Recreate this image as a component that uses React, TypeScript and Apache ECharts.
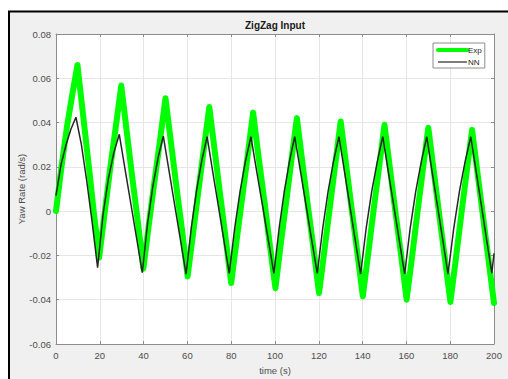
import React, { useEffect, useRef } from "react";
import * as echarts from "echarts";

const xTicks = [0, 20, 40, 60, 80, 100, 120, 140, 160, 180, 200];
const yTicks = [-0.06, -0.04, -0.02, 0, 0.02, 0.04, 0.06, 0.08];
const titleText = "ZigZag Input";
const xName = "time (s)";
const yName = "Yaw Rate (rad/s)";
const seriesNames = ["Exp", "NN"];

const expTime = [
  0, 2.5, 5, 7.5, 9.8,
  12.3, 14.8, 17.2, 19.7,
  22.2, 24.7, 27.3, 29.8,
  32.3, 34.8, 37.4, 39.9,
  42.4, 44.9, 47.5, 50.0,
  52.5, 55.0, 57.6, 60.1,
  62.6, 65.0, 67.5, 70.0,
  72.5, 75.0, 77.5, 80.0,
  82.5, 85.0, 87.5, 90.0,
  92.5, 95.1, 97.6, 100.2,
  102.6, 105.1, 107.5, 110.0,
  112.5, 115.0, 117.6, 120.1,
  122.6, 125.0, 127.5, 130.0,
  132.5, 135.0, 137.6, 140.1,
  142.6, 145.0, 147.5, 150.0,
  152.5, 155.0, 157.6, 160.1,
  162.6, 165.0, 167.5, 170.0,
  172.5, 175.0, 177.6, 180.1,
  182.6, 185.0, 187.5, 190.0,
  192.5, 195.0, 197.5, 200.0,
];
const expValue = [
  0.0, 0.020, 0.038, 0.053, 0.066,
  0.044, 0.022, 0.0, -0.021,
  -0.001, 0.019, 0.038, 0.0567,
  0.036, 0.0155, -0.005, -0.026,
  -0.006, 0.013, 0.032, 0.051,
  0.031, 0.011, -0.009, -0.0295,
  -0.010, 0.009, 0.028, 0.047,
  0.027, 0.007, -0.0125, -0.0325,
  -0.013, 0.006, 0.025, 0.0445,
  0.0245, 0.005, -0.015, -0.0348,
  -0.015, 0.004, 0.023, 0.042,
  0.022, 0.0025, -0.017, -0.037,
  -0.0175, 0.0015, 0.021, 0.0405,
  0.0208, 0.001, -0.0187, -0.0385,
  -0.019, 0.0003, 0.0196, 0.039,
  0.0192, -0.0005, -0.020, -0.040,
  -0.0205, -0.001, 0.0185, 0.0377,
  0.018, -0.0017, -0.0214, -0.041,
  -0.0215, -0.002, 0.0175, 0.0367,
  0.017, -0.0025, -0.022, -0.0415,
];

const nnTime = [
  0, 2.3, 4.6, 6.8, 9.1,
  11.6, 14.05, 16.5, 19.0,
  21.5, 23.95, 26.4, 28.9,
  31.5, 34.15, 36.8, 39.4,
  41.8, 44.2, 46.6, 49.0,
  51.6, 54.2, 56.8, 59.4,
  61.8, 64.2, 66.6, 69.0,
  71.5, 74.05, 76.6, 79.1,
  81.6, 84.05, 86.5, 89.0,
  91.6, 94.25, 96.9, 99.5,
  101.9, 104.25, 106.6, 109.0,
  111.6, 114.15, 116.7, 119.3,
  121.8, 124.25, 126.7, 129.2,
  131.7, 134.15, 136.6, 139.1,
  141.6, 144.15, 146.7, 149.2,
  151.7, 154.2, 156.7, 159.2,
  161.7, 164.25, 166.8, 169.3,
  171.7, 174.15, 176.6, 179.0,
  181.6, 184.2, 186.8, 189.4,
  191.8, 194.2, 196.6, 199.0,
  200.0,
];
const nnValue = [
  0.007, 0.021, 0.030, 0.037, 0.0424,
  0.030, 0.0135, -0.005, -0.0255,
  -0.0014, 0.0148, 0.0263, 0.0347,
  0.0191, 0.0035, -0.0122, -0.0278,
  -0.0056, 0.0111, 0.024, 0.0339,
  0.0183, 0.0027, -0.0129, -0.0285,
  -0.0074, 0.0094, 0.023, 0.0336,
  0.0182, 0.0028, -0.0127, -0.0281,
  -0.0077, 0.0089, 0.0225, 0.0336,
  0.0182, 0.0028, -0.0127, -0.0281,
  -0.0077, 0.0089, 0.0225, 0.0336,
  0.0182, 0.0028, -0.0127, -0.0281,
  -0.0077, 0.0089, 0.0225, 0.0336,
  0.0181, 0.0026, -0.0129, -0.0284,
  -0.0079, 0.0088, 0.0224, 0.0336,
  0.0181, 0.0026, -0.0129, -0.0284,
  -0.0079, 0.0088, 0.0224, 0.0336,
  0.0181, 0.0026, -0.0129, -0.0284,
  -0.0079, 0.0088, 0.0224, 0.0336,
  0.0182, 0.0028, -0.0126, -0.028,
  -0.019,
];

const FONT = "'Liberation Sans', Arial, Helvetica, sans-serif";
const LABEL = "#4d4d4d";
const AXIS = "#8c8c8c";
const GREEN = "#00ff00";
const DARK = "#262626";

function fmtY(v: number): string {
  if (Math.abs(v) < 1e-9) return "0";
  return v.toFixed(2);
}

export default function App() {
  const ref = useRef<HTMLDivElement>(null);
  useEffect(() => {
    if (!ref.current) return;
    const chart = echarts.init(ref.current, undefined, { renderer: "svg" });
    const expData = expTime.map((t, i) => [t, expValue[i]]);
    const nnData = nnTime.map((t, i) => [t, nnValue[i]]);
    const xMin = xTicks[0];
    const xMax = xTicks[xTicks.length - 1];
    const xInt = xTicks[1] - xTicks[0];
    const yMin = yTicks[0];
    const yMax = yTicks[yTicks.length - 1];
    const yInt = 0.02;
    const axisCommon = {
      axisLine: { show: true, onZero: false, lineStyle: { color: AXIS, width: 1 } },
      axisTick: { show: true, inside: true, length: 3, lineStyle: { color: AXIS } },
    };
    chart.setOption({
      animation: false,
      title: {
        text: titleText,
        left: 245,
        top: 20,
        padding: 0,
        textStyle: { fontFamily: FONT, fontSize: 10, fontWeight: "bold", color: "#1a1a1a" },
      },
      graphic: [
        { type: "rect", z: -10, silent: true, shape: { x: 9, y: 11, width: 510, height: 380 }, style: { fill: "#f0f0f0" } },
        { type: "line", z: -9, silent: true, shape: { x1: 8, y1: 11.5, x2: 508, y2: 11.5 }, style: { stroke: "#000", lineWidth: 2 } },
        { type: "line", z: -9, silent: true, shape: { x1: 9, y1: 11, x2: 9, y2: 379 }, style: { stroke: "#000", lineWidth: 2 } },
        {
          type: "text",
          x: 275,
          y: 370,
          style: { text: xName, font: `9.5px ${FONT}`, fill: LABEL, textAlign: "center", textVerticalAlign: "middle" },
        },
        {
          type: "text",
          x: 21,
          y: 189,
          rotation: Math.PI / 2,
          style: { text: yName, font: `9.5px ${FONT}`, fill: LABEL, textAlign: "center", textVerticalAlign: "middle" },
        },
      ],
      legend: {
        data: [
          { name: seriesNames[0], lineStyle: { width: 4, color: GREEN }, itemStyle: { opacity: 0 } },
          { name: seriesNames[1], lineStyle: { width: 1.2, color: DARK }, itemStyle: { opacity: 0 } },
        ],
        orient: "vertical",
        left: 433,
        top: 43,
        padding: [3, 3, 2, 3],
        itemWidth: 29,
        itemHeight: 8,
        itemGap: 4,
        itemStyle: { opacity: 0 },
        backgroundColor: "#fff",
        borderColor: AXIS,
        borderWidth: 1,
        borderRadius: 0,
        textStyle: { fontFamily: FONT, fontSize: 8, color: DARK, padding: [0, 0, 0, -4] },
      },
      grid: {
        left: 56,
        top: 34,
        right: 14,
        bottom: 35,
        show: true,
        backgroundColor: "#fff",
        borderWidth: 0,
      },
      xAxis: [
        {
          type: "value",
          min: xMin,
          max: xMax,
          interval: xInt,
          position: "bottom",
          ...axisCommon,
          axisLabel: { fontFamily: FONT, fontSize: 9.5, color: LABEL, margin: 6 },
          splitLine: { show: true, lineStyle: { color: "#e6e6e6", width: 1 } },
        },
        {
          type: "value",
          min: xMin,
          max: xMax,
          interval: xInt,
          position: "top",
          ...axisCommon,
          axisLabel: { show: false },
          splitLine: { show: false },
        },
      ],
      yAxis: [
        {
          type: "value",
          min: yMin,
          max: yMax,
          interval: yInt,
          position: "left",
          ...axisCommon,
          axisLabel: { fontFamily: FONT, fontSize: 9.5, color: LABEL, margin: 5, formatter: fmtY },
          splitLine: { show: true, lineStyle: { color: "#e6e6e6", width: 1 } },
        },
        {
          type: "value",
          min: yMin,
          max: yMax,
          interval: yInt,
          position: "right",
          ...axisCommon,
          axisLabel: { show: false },
          splitLine: { show: false },
        },
      ],
      series: [
        {
          name: seriesNames[0],
          type: "line",
          data: expData,
          showSymbol: false,
          symbol: "none",
          lineStyle: { color: GREEN, width: 6, cap: "round", join: "round" },
          itemStyle: { color: GREEN },
          z: 2,
        },
        {
          name: seriesNames[1],
          type: "line",
          data: nnData,
          showSymbol: false,
          symbol: "none",
          lineStyle: { color: DARK, width: 1.5 },
          itemStyle: { color: DARK },
          z: 3,
        },
      ],
    });
    return () => chart.dispose();
  }, []);
  return (
    <div
      ref={ref}
      style={{ position: "fixed", left: 0, top: 0, width: 508, height: 379, background: "#fff" }}
    />
  );
}
